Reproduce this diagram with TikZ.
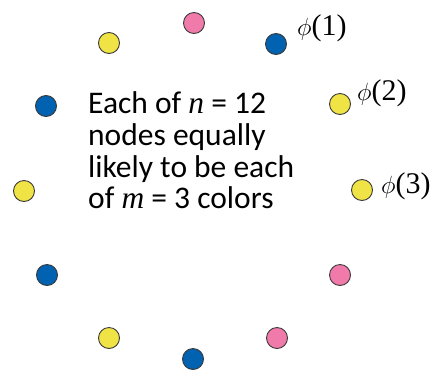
\documentclass[tikz,border=0pt]{standalone}
\usepackage{fontspec}
\setmainfont{Carlito}
\newfontfamily\timesf{Liberation Serif}
\definecolor{dotyellow}{HTML}{EFE345}
\definecolor{dotblue}{HTML}{0062B0}
\definecolor{dotpink}{HTML}{F07BAA}
\definecolor{dotedge}{HTML}{3A3A3A}
\begin{document}
\begin{tikzpicture}[x=1pt,y=-1pt,
  dot/.style={circle,draw=dotedge,line width=0.9pt,minimum size=21pt,inner sep=0pt},
  ydot/.style={dot,fill=dotyellow},
  bdot/.style={dot,fill=dotblue},
  pdot/.style={dot,fill=dotpink},
  philab/.style={anchor=base west,inner sep=0pt,font=\fontsize{30}{30}\selectfont},
  txt/.style={anchor=base west,inner sep=0pt,font=\fontsize{31.5}{32}\selectfont}]
\useasboundingbox (0,0) rectangle (438,370);
\node[pdot] (d1) at (194,23) {};
\node[bdot] (d2) at (276,44) {};
\node[ydot] (d3) at (340,104) {};
\node[ydot] (d4) at (362,190) {};
\node[pdot] (d5) at (340,275) {};
\node[pdot] (d6) at (277,338) {};
\node[bdot] (d7) at (193,359) {};
\node[ydot] (d8) at (109,338) {};
\node[bdot] (d9) at (47,275) {};
\node[ydot] (d10) at (24,191) {};
\node[bdot] (d11) at (46,106) {};
\node[ydot] (d12) at (109,43) {};
\node[philab] (p1) at (297,35) {$\phi${\timesf(1)}};
\node[philab] (p2) at (357,100) {$\phi${\timesf(2)}};
\node[philab] (p3) at (381,193) {$\phi${\timesf(3)}};
\node[txt] (t1) at (88,113) {Each of {\timesf\itshape n} = 12};
\node[txt] (t2) at (88,145) {nodes equally};
\node[txt] (t3) at (88,177) {likely to be each};
\node[txt] (t4) at (88,208) {of {\timesf\itshape m} = 3 colors};
\end{tikzpicture}
\end{document}
